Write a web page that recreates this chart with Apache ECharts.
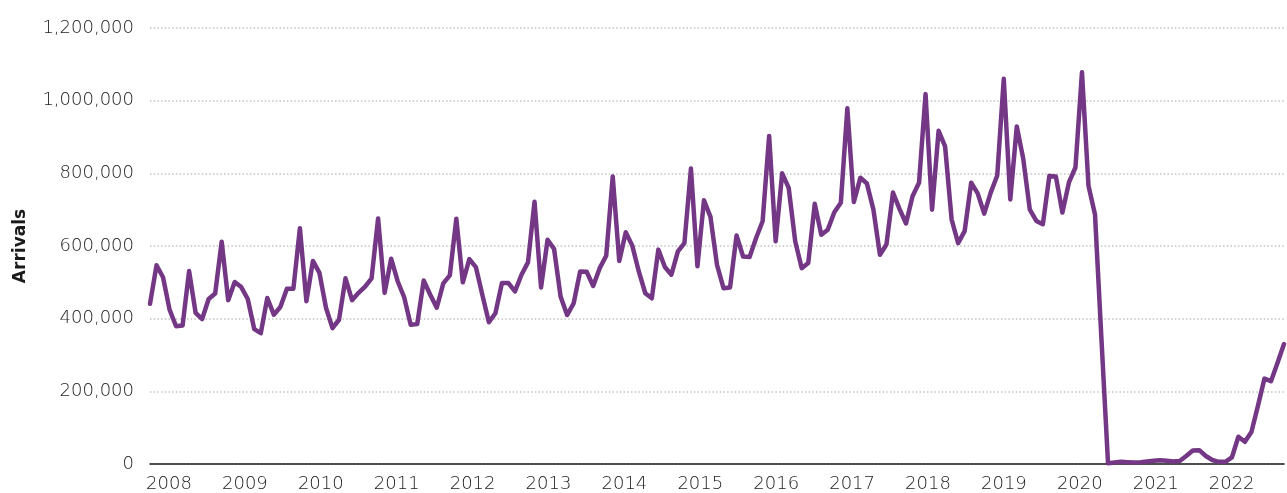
<!DOCTYPE html>
<html>
<head>
<meta charset="utf-8">
<script src="https://cdn.jsdelivr.net/npm/echarts@6/dist/echarts.min.js"></script>
<style>
  html, body { margin: 0; padding: 0; background: #fff; }
  #chart { width: 1287px; height: 493px; }
</style>
</head>
<body>
<div id="chart"></div>
<script>
// monthly arrivals, Jan..Dec
const y2008 = [441000, 547000, 514000, 425000, 379000, 381000, 531000, 416000, 399000, 454000, 469000, 612000];
const y2009 = [451000, 501000, 487000, 454000, 371000, 360000, 457000, 411000, 432000, 482000, 482000, 649000];
const y2010 = [448000, 559000, 526000, 430000, 374000, 397000, 511000, 451000, 471000, 488000, 511000, 676000];
const y2011 = [471000, 565000, 503000, 459000, 383000, 385000, 505000, 466000, 430000, 497000, 519000, 675000];
const y2012 = [500000, 564000, 542000, 465000, 390000, 415000, 498000, 498000, 475000, 521000, 555000, 722000];
const y2013 = [486000, 617000, 592000, 461000, 410000, 442000, 530000, 529000, 490000, 539000, 573000, 791000];
const y2014 = [559000, 638000, 601000, 530000, 470000, 456000, 590000, 542000, 521000, 585000, 608000, 813000];
const y2015 = [544000, 726000, 680000, 548000, 484000, 486000, 629000, 571000, 570000, 622000, 668000, 903000];
const y2016 = [613000, 800000, 760000, 613000, 539000, 553000, 716000, 631000, 645000, 693000, 719000, 979000];
const y2017 = [721000, 788000, 772000, 700000, 576000, 604000, 747000, 702000, 662000, 737000, 774000, 1018000];
const y2018 = [700000, 917000, 874000, 673000, 608000, 641000, 774000, 745000, 689000, 747000, 794000, 1060000];
const y2019 = [728000, 929000, 839000, 700000, 669000, 660000, 793000, 791000, 692000, 775000, 816000, 1078000];
const y2020 = [766000, 687000, 340000, 2000, 4000, 6000, 5000, 4000, 5000, 7000, 9000, 10000];
const y2021 = [9000, 7000, 8000, 22000, 37000, 38000, 22000, 11000, 6000, 6000, 18000, 75000];
const y2022 = [61000, 88000, 160000, 235000, 228000, 278000, 330000];

const years = [2008, 2009, 2010, 2011, 2012, 2013, 2014, 2015, 2016, 2017, 2018, 2019, 2020, 2021, 2022];
const months = ["Jan", "Feb", "Mar", "Apr", "May", "Jun", "Jul", "Aug", "Sep", "Oct", "Nov", "Dec"];
const yTicks = [0, 200000, 400000, 600000, 800000, 1000000, 1200000];

const arrivals = [].concat(y2008, y2009, y2010, y2011, y2012, y2013, y2014,
  y2015, y2016, y2017, y2018, y2019, y2020, y2021, y2022);
const monthCats = [];
years.forEach((yr) => {
  months.forEach((m) => monthCats.push(m + " " + yr));
});
monthCats.length = arrivals.length;

const labelFont = "DejaVu Sans";
const myChart = echarts.init(document.getElementById("chart"));

const myOption = {
  animation: false,
  grid: {
    left: 150,
    right: 2,
    top: 28,
    bottom: 28,
    containLabel: false,
  },
  xAxis: [
    {
      type: "category",
      data: monthCats,
      boundaryGap: false,
      axisLine: { show: true, lineStyle: { color: "#1a1a1a", width: 1.5 } },
      axisTick: { show: false },
      axisLabel: { show: false },
      splitLine: { show: false },
    },
    {
      // year labels only
      type: "value",
      position: "bottom",
      min: 2007.75,
      max: 2022.69,
      interval: 0.25,
      axisLine: { show: false },
      axisTick: { show: false },
      splitLine: { show: false },
      axisLabel: {
        margin: 11,
        color: "#1c1c1c",
        fontFamily: labelFont,
        fontWeight: 300,
        fontSize: 18,
        formatter: function (v) {
          const r = Math.round(v);
          return Math.abs(v - r) < 1e-6 && years.indexOf(r) >= 0 ? String(r) : "";
        },
      },
    },
  ],
  yAxis: {
    type: "value",
    min: yTicks[0],
    max: yTicks[yTicks.length - 1],
    interval: 200000,
    name: "Arrivals",
    nameLocation: "middle",
    nameRotate: 90,
    nameGap: 121,
    nameTextStyle: {
      color: "#1a1a1a",
      fontFamily: labelFont,
      fontWeight: "bold",
      fontSize: 17,
    },
    axisLine: { show: false },
    axisTick: { show: false },
    axisLabel: {
      margin: 16,
      color: "#1c1c1c",
      fontFamily: labelFont,
      fontWeight: 300,
      fontSize: 18,
      formatter: (v) => v.toLocaleString("en-US"),
    },
    splitLine: {
      show: true,
      lineStyle: { color: "#c2c2c2", width: 1.5, type: [1.5, 2.2] },
    },
  },
  series: [
    {
      name: "Arrivals",
      type: "line",
      xAxisIndex: 0,
      data: arrivals,
      symbol: "none",
      lineStyle: { color: "#733785", width: 4.5, join: "round", cap: "round" },
    },
  ],
};

myChart.setOption(myOption);
</script>
</body>
</html>
